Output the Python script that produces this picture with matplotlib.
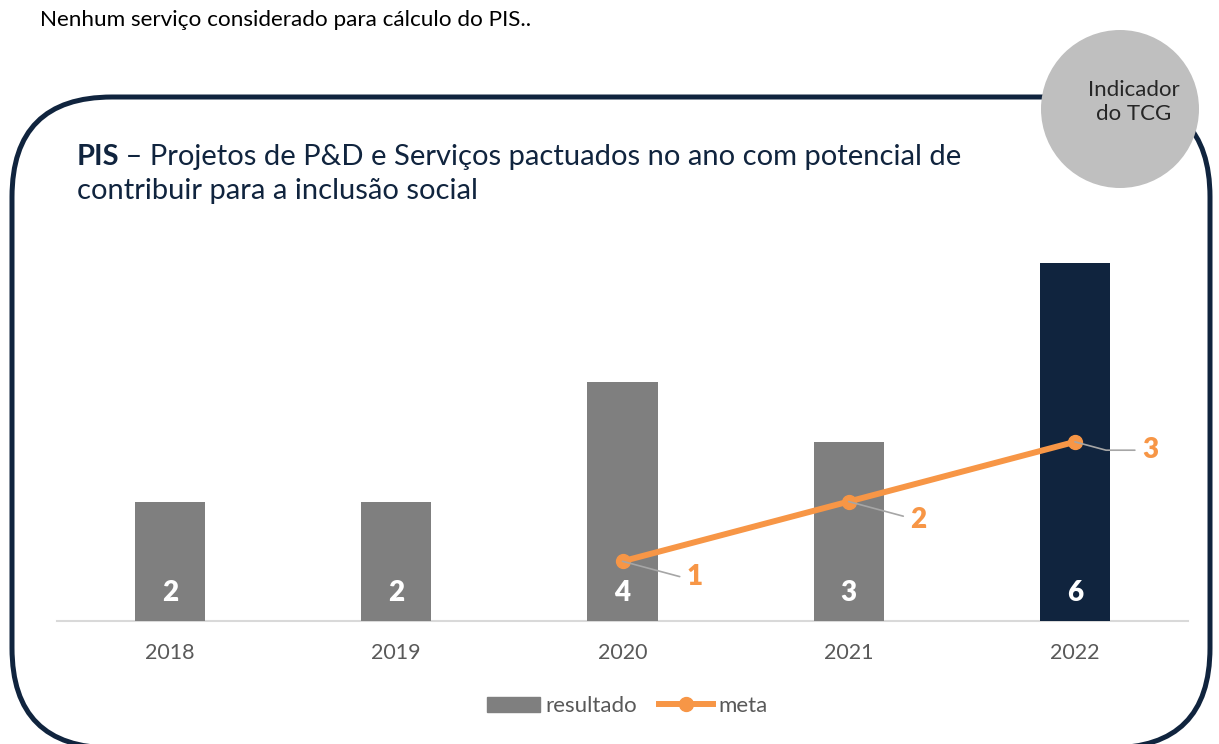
import matplotlib
matplotlib.use('Agg')
import matplotlib.pyplot as plt
from matplotlib.patches import FancyBboxPatch, Circle, Patch
from matplotlib.lines import Line2D

years = ['2018', '2019', '2020', '2021', '2022']
resultado = [2, 2, 4, 3, 6]
meta_years = ['2020', '2021', '2022']
meta = [1, 2, 3]

NAVY = '#10243E'
GRAY = '#7F7F7F'
ORANGE = '#F79646'
TXT = '#595959'
FONT = 'Lato'
plt.rcParams['font.family'] = [FONT, 'DejaVu Sans']

W, H = 1219, 744
fig = plt.figure(figsize=(W / 100, H / 100), dpi=100)

bg = fig.add_axes([0, 0, 1, 1])
bg.set_xlim(0, W)
bg.set_ylim(0, H)
bg.axis('off')


def Y(y):
    return H - y


border = FancyBboxPatch((12, Y(748)), 1198, 651, boxstyle='round,pad=0,rounding_size=100',
                        fill=False, ec=NAVY, lw=3.6, zorder=1)
bg.add_patch(border)
bg.add_patch(Circle((1120, Y(109)), 79, fc='#BFBFBF', ec='none', zorder=2))
bg.text(1134, Y(102), 'Indicador\ndo TCG', ha='center', va='center', fontsize=16,
        color='#262626', linespacing=1.2, zorder=3)
bg.text(40, Y(20), 'Nenhum serviço considerado para cálculo do PIS..', ha='left', va='center',
        fontsize=16.2, color='#000000')
t1 = bg.text(77, Y(157), 'PIS', ha='left', va='center', fontsize=21, fontweight='bold', color=NAVY)
bg.annotate(' – Projetos de P&D e Serviços pactuados no ano com potencial de',
            xy=(0.97, 0), xycoords=t1, ha='left', va='bottom', fontsize=21, color=NAVY)
bg.text(77, Y(191), 'contribuir para a inclusão social', ha='left', va='center', fontsize=21, color=NAVY)

ax = fig.add_axes([57 / W, 123 / H, 1131 / W, 418 / H])
ax.patch.set_alpha(0)
x = list(range(len(years)))
colors = [GRAY] * (len(years) - 1) + [NAVY]
ax.bar(x, resultado, width=0.31, color=colors, zorder=2)
for xi, v in zip(x, resultado):
    ax.text(xi, 0.47, str(v), ha='center', va='center', color='white', fontsize=20,
            fontweight='heavy', zorder=3)

mx = [years.index(y) for y in meta_years]
ax.plot(mx, meta, color=ORANGE, lw=4.3, marker='o', ms=10, zorder=4, solid_capstyle='round')
offsets = [(52, -11), (50, -13), (54, -6)]
for xi, v, off in zip(mx, meta, offsets):
    ax.annotate(str(v), xy=(xi, v), xytext=off, textcoords='offset points',
                ha='center', va='center', color=ORANGE, fontsize=20, fontweight='heavy',
                arrowprops=dict(arrowstyle='-', color='#A6A6A6', lw=1.2,
                                connectionstyle='angle,angleA=0,angleB=-15,rad=0',
                                shrinkA=3, shrinkB=0), zorder=5)

ax.set_xlim(-0.5, len(years) - 0.5)
ax.set_ylim(0, 7)
for s in ['top', 'right', 'left']:
    ax.spines[s].set_visible(False)
ax.spines['bottom'].set_color('#D9D9D9')
ax.spines['bottom'].set_linewidth(1.5)
ax.spines['bottom'].set_zorder(1)
ax.set_yticks([])
ax.set_xticks(x)
ax.set_xticklabels(years, fontsize=15.5, color=TXT)
ax.tick_params(axis='x', length=0, pad=16)

handles = [Patch(color=GRAY),
           Line2D([0], [0], color=ORANGE, lw=4.3, marker='o', ms=10)]
fig.legend(handles, ['resultado', 'meta'], loc='center', bbox_to_anchor=(627 / W, 1 - 706 / H),
           ncol=2, frameon=False, fontsize=16, labelcolor=TXT, handlelength=2.4,
           handletextpad=0.25, columnspacing=1.0, handleheight=0.65)

fig.savefig('out.png', dpi=100)
